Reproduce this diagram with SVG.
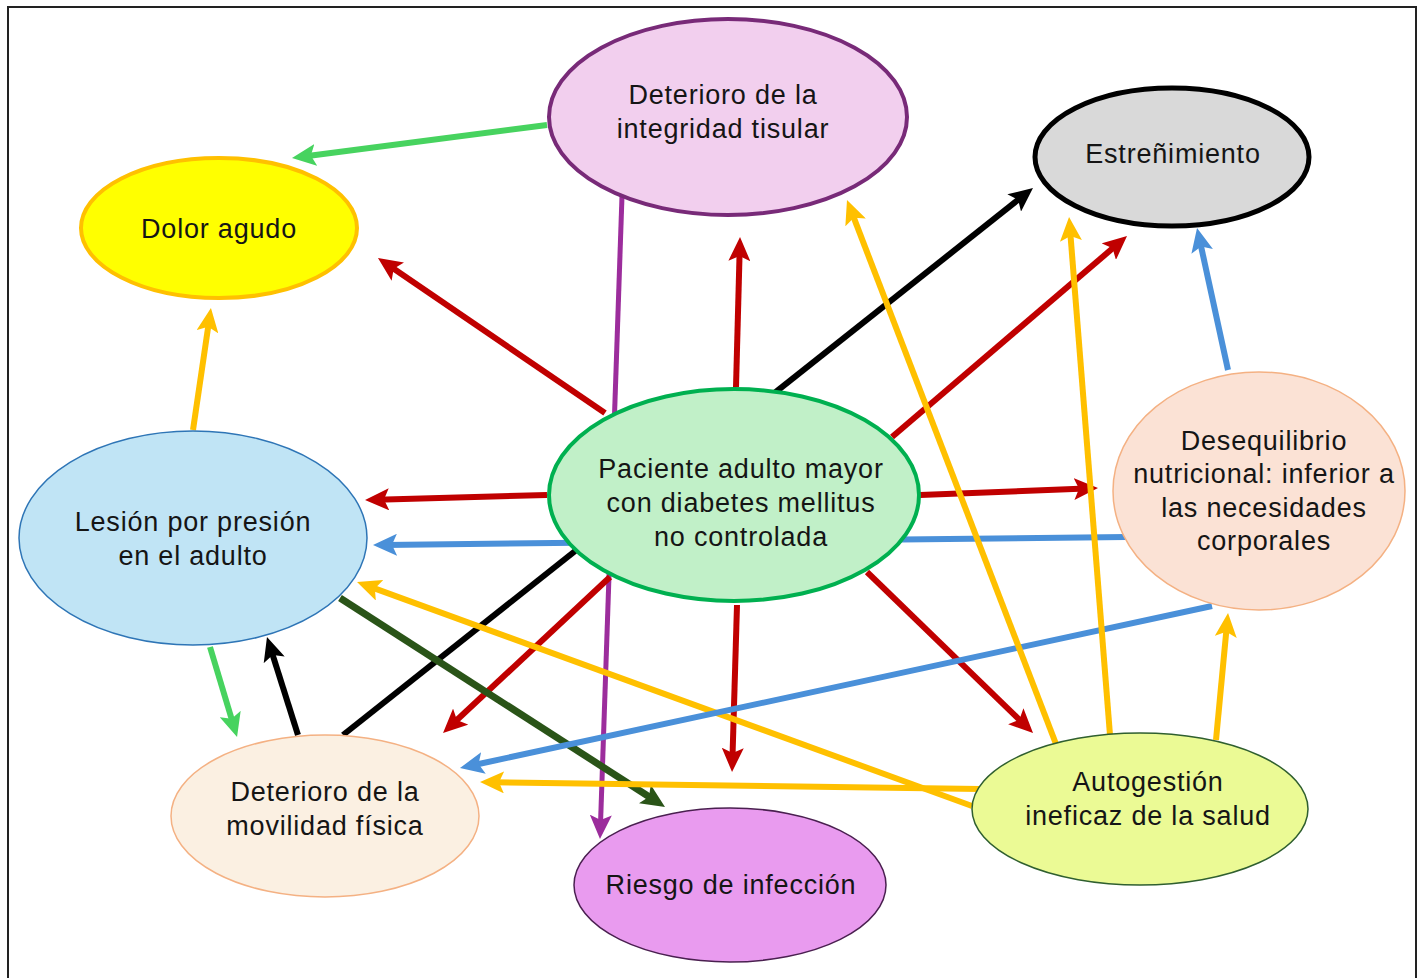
<svg xmlns="http://www.w3.org/2000/svg" width="1424" height="978" viewBox="0 0 1424 978">
<style>
  text { font-family: "Liberation Sans", Arial, sans-serif; font-size: 27px; fill: #151515; text-anchor: middle; letter-spacing: 0.8px; }
  .c { fill: none; stroke-width: 6; stroke-linecap: butt; }
  .red { stroke: #c00000; marker-end: url(#aRed); }
  .grn { stroke: #47d35f; marker-end: url(#aGrn); }
  .org { stroke: #ffc000; marker-end: url(#aOrg); }
  .blu { stroke: #4a90d9; marker-end: url(#aBlu); }
  .blk { stroke: #000; marker-end: url(#aBlk); }
  .pur { stroke: #9c2d9c; stroke-width: 5; marker-end: url(#aPur); }
  .dgr { stroke: #2a5418; stroke-width: 7; marker-end: url(#aDgr); }
</style>
<defs>
  <marker id="aRed" markerUnits="userSpaceOnUse" markerWidth="24" markerHeight="22" refX="12" refY="11" orient="auto"><path d="M0,0 L24,11 L0,22 L5,11 Z" fill="#c00000"/></marker>
  <marker id="aGrn" markerUnits="userSpaceOnUse" markerWidth="24" markerHeight="22" refX="12" refY="11" orient="auto"><path d="M0,0 L24,11 L0,22 L5,11 Z" fill="#47d35f"/></marker>
  <marker id="aOrg" markerUnits="userSpaceOnUse" markerWidth="24" markerHeight="22" refX="12" refY="11" orient="auto"><path d="M0,0 L24,11 L0,22 L5,11 Z" fill="#ffc000"/></marker>
  <marker id="aBlu" markerUnits="userSpaceOnUse" markerWidth="24" markerHeight="22" refX="12" refY="11" orient="auto"><path d="M0,0 L24,11 L0,22 L5,11 Z" fill="#4a90d9"/></marker>
  <marker id="aBlk" markerUnits="userSpaceOnUse" markerWidth="24" markerHeight="22" refX="12" refY="11" orient="auto"><path d="M0,0 L24,11 L0,22 L5,11 Z" fill="#000"/></marker>
  <marker id="aPur" markerUnits="userSpaceOnUse" markerWidth="24" markerHeight="22" refX="12" refY="11" orient="auto"><path d="M0,0 L24,11 L0,22 L5,11 Z" fill="#9c2d9c"/></marker>
  <marker id="aDgr" markerUnits="userSpaceOnUse" markerWidth="24" markerHeight="22" refX="12" refY="11" orient="auto"><path d="M0,0 L24,11 L0,22 L5,11 Z" fill="#2a5418"/></marker>
</defs>
<rect x="0" y="0" width="1424" height="978" fill="#fff"/>
<rect x="8" y="7" width="1408" height="990" fill="none" stroke="#222" stroke-width="2"/>

<g id="connectors">
  <line class="c grn" x1="547" y1="125" x2="303.9" y2="156.5"/>
  <line class="c pur" x1="622" y1="196" x2="600.4" y2="827"/>
  <line class="c red" x1="605" y1="413" x2="387.9" y2="264.8"/>
  <line class="c red" x1="736" y1="387" x2="739.7" y2="249"/>
  <line class="c blk" x1="343" y1="735" x2="1023.6" y2="195.5"/>
  <line class="c red" x1="892" y1="437" x2="1117.9" y2="243.8"/>
  <line class="c red" x1="920" y1="495" x2="1086" y2="488.5"/>
  <line class="c red" x1="547" y1="495" x2="377" y2="499.7"/>
  <line class="c blu" x1="1126" y1="537" x2="385" y2="544.9"/>
  <line class="c red" x1="610" y1="577" x2="451.8" y2="724.8"/>
  <line class="c red" x1="737" y1="605" x2="732.4" y2="760"/>
  <line class="c red" x1="867" y1="572" x2="1024.4" y2="724.6"/>
  <line class="c blk" x1="298" y1="735" x2="270.6" y2="648.4"/>
  <line class="c grn" x1="210" y1="647" x2="233.6" y2="725.5"/>
  <line class="c org" x1="193" y1="430" x2="209.2" y2="319.9"/>
  <line class="c dgr" x1="340" y1="598" x2="654.9" y2="800.5"/>
  <line class="c org" x1="972" y1="806" x2="368.3" y2="586.1"/>
  <line class="c org" x1="980" y1="789" x2="492" y2="782.2"/>
  <line class="c blu" x1="1212" y1="606" x2="471.7" y2="765.5"/>
  <line class="c org" x1="1056" y1="744" x2="851.3" y2="211.2"/>
  <line class="c org" x1="1110" y1="735" x2="1070" y2="229"/>
  <line class="c org" x1="1216" y1="740" x2="1226.9" y2="624.9"/>
  <line class="c blu" x1="1228" y1="370" x2="1199.6" y2="239.7"/>
</g>

<g id="dolor">
  <ellipse cx="219" cy="228" rx="138" ry="70" fill="#ffff00" stroke="#ffc000" stroke-width="4"/>
  <text x="219" y="238">Dolor agudo</text>
</g>
<g id="integridad">
  <ellipse cx="728" cy="117" rx="179" ry="98" fill="#f2cfee" stroke="#782a78" stroke-width="4"/>
  <text x="723" y="104">Deterioro de la</text>
  <text x="723" y="138">integridad tisular</text>
</g>
<g id="estrenimiento">
  <ellipse cx="1172" cy="157" rx="137" ry="69" fill="#d9d9d9" stroke="#000" stroke-width="5"/>
  <text x="1173" y="163">Estreñimiento</text>
</g>
<g id="paciente">
  <ellipse cx="734" cy="495" rx="185" ry="106" fill="#c1f0c8" stroke="#00b050" stroke-width="4"/>
  <text x="741" y="478">Paciente adulto mayor</text>
  <text x="741" y="512">con diabetes mellitus</text>
  <text x="741" y="546">no controlada</text>
</g>
<g id="desequilibrio">
  <ellipse cx="1259" cy="491" rx="146" ry="119" fill="#fbe2d5" stroke="#f4b183" stroke-width="1.5"/>
  <text x="1264" y="450">Desequilibrio</text>
  <text x="1264" y="483">nutricional: inferior a</text>
  <text x="1264" y="517">las necesidades</text>
  <text x="1264" y="550">corporales</text>
</g>
<g id="lesion">
  <ellipse cx="193" cy="538" rx="174" ry="107" fill="#c0e4f5" stroke="#2e75b6" stroke-width="1.5"/>
  <text x="193" y="531">Lesión por presión</text>
  <text x="193" y="565">en el adulto</text>
</g>
<g id="movilidad">
  <ellipse cx="325" cy="816" rx="154" ry="81" fill="#fbf0e2" stroke="#f4b183" stroke-width="1.5"/>
  <text x="325" y="801">Deterioro de la</text>
  <text x="325" y="835">movilidad física</text>
</g>
<g id="riesgo">
  <ellipse cx="730" cy="885" rx="156" ry="77" fill="#e99bef" stroke="#4a2050" stroke-width="1.5"/>
  <text x="731" y="894">Riesgo de infección</text>
</g>
<g id="autogestion">
  <ellipse cx="1140" cy="809" rx="168" ry="76" fill="#ebfa95" stroke="#2f5f2f" stroke-width="1.5"/>
  <text x="1148" y="791">Autogestión</text>
  <text x="1148" y="825">ineficaz de la salud</text>
</g>
</svg>
